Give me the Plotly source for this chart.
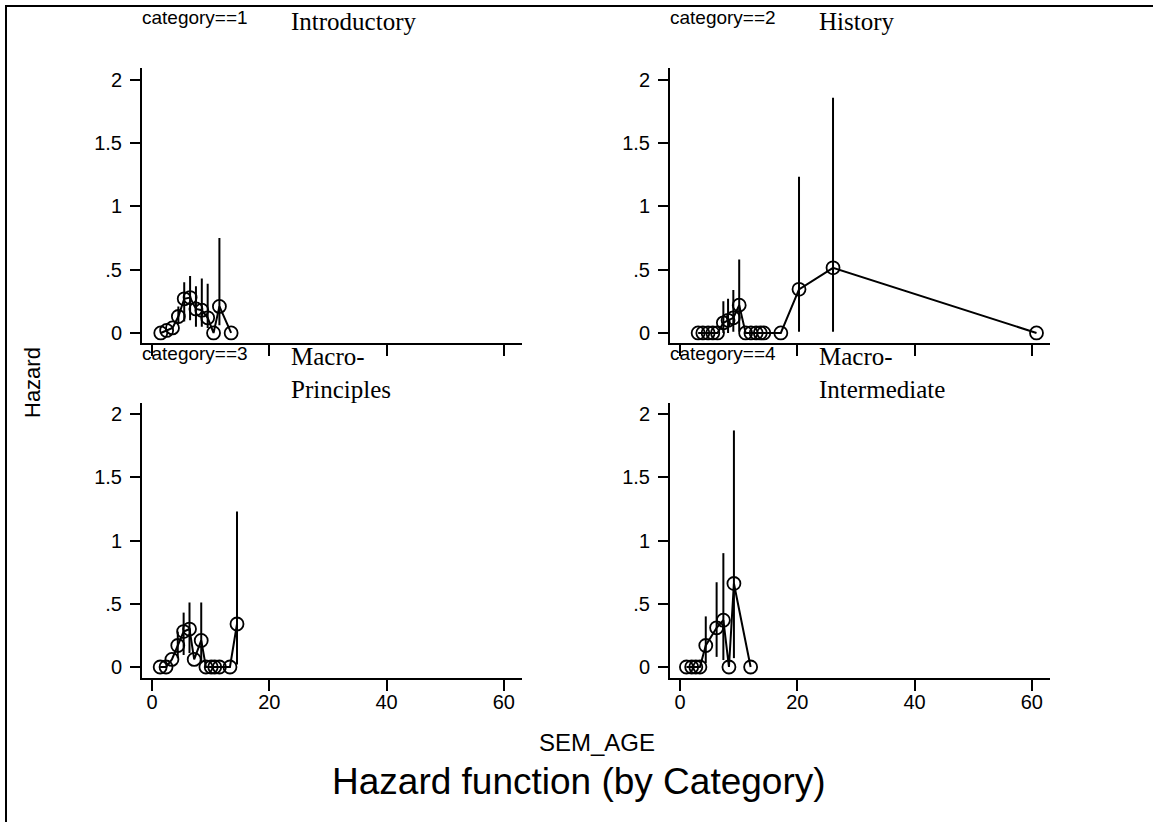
import plotly.graph_objects as go
import numpy as np

W, H = 1153, 822

# ---------------- data ----------------
panel_codes = ["category==1", "category==2", "category==3", "category==4"]
panel_names = ["Introductory", "History", "Macro-<br>Principles", "Macro-<br>Intermediate"]

cat1_x = [1.5, 2.5, 3.5, 4.5, 5.5, 6.5, 7.5, 8.5, 9.5, 10.5, 11.5, 13.5]
cat1_h = [0.0, 0.02, 0.04, 0.13, 0.27, 0.28, 0.19, 0.18, 0.12, 0.0, 0.21, 0.0]
cat1_lo = [None, None, None, 0.07, 0.09, 0.10, 0.05, 0.05, 0.04, None, 0.06, None]
cat1_hi = [None, None, None, 0.21, 0.40, 0.45, 0.37, 0.43, 0.39, None, 0.75, None]

cat2_x = [3.1, 3.9, 4.8, 5.6, 6.4, 7.4, 8.2, 9.1, 10.1, 11.2, 12.1, 13.0, 13.7, 14.3, 17.2, 20.3, 26.1, 60.8]
cat2_h = [0.0, 0.0, 0.0, 0.0, 0.0, 0.08, 0.10, 0.12, 0.22, 0.0, 0.0, 0.0, 0.0, 0.0, 0.0, 0.345, 0.515, 0.0]
cat2_lo = [None, None, None, None, None, 0.0, 0.0, 0.01, 0.01, None, None, None, None, None, None, 0.01, 0.01, None]
cat2_hi = [None, None, None, None, None, 0.25, 0.27, 0.34, 0.58, None, None, None, None, None, None, 1.235, 1.86, None]

cat3_x = [1.4, 2.4, 3.4, 4.4, 5.4, 6.4, 7.2, 8.4, 9.2, 10.1, 10.7, 11.5, 13.3, 14.5]
cat3_h = [0.0, 0.0, 0.06, 0.17, 0.28, 0.30, 0.06, 0.21, 0.0, 0.0, 0.0, 0.0, 0.0, 0.34]
cat3_lo = [None, None, None, 0.07, 0.095, 0.11, None, 0.03, None, None, None, None, None, 0.02]
cat3_hi = [None, None, None, 0.28, 0.43, 0.51, None, 0.51, None, None, None, None, None, 1.23]

cat4_x = [1.1, 2.0, 2.7, 3.4, 4.4, 6.25, 7.4, 8.35, 9.2, 12.05]
cat4_h = [0.0, 0.0, 0.0, 0.0, 0.17, 0.31, 0.37, 0.0, 0.66, 0.0]
cat4_lo = [None, None, None, None, 0.03, 0.08, 0.055, None, 0.07, None]
cat4_hi = [None, None, None, None, 0.40, 0.67, 0.90, None, 1.87, None]

y_tickvals = [0, 0.5, 1, 1.5, 2]
y_ticktext = ["0", ".5", "1", "1.5", "2"]
x_tickvals = [0, 20, 40, 60]
x_ticktext = ["0", "20", "40", "60"]

x_title = "SEM_AGE"
y_title = "Hazard"
main_title = "Hazard function (by Category)"

panels = [
    (cat1_x, cat1_h, cat1_lo, cat1_hi),
    (cat2_x, cat2_h, cat2_lo, cat2_hi),
    (cat3_x, cat3_h, cat3_lo, cat3_hi),
    (cat4_x, cat4_h, cat4_lo, cat4_hi),
]

# ---------------- layout geometry (pixels) ----------------
def px_x(p):
    return p / W

def px_y(p):
    return 1 - p / H

col_px = [(142, 522), (670, 1050)]
row_px = [(68, 342.7), (403, 678)]
y_ranges = [[-0.077, 2.095], [-0.087, 2.087]]
x_range = [-1.7, 63.1]

fig = go.Figure()
SANS = "Liberation Sans, Arial, sans-serif"
SERIF = "Liberation Serif, Times New Roman, serif"

for i, (xs, hs, los, his) in enumerate(panels):
    r, c = divmod(i, 2)
    ax = "" if i == 0 else str(i + 1)
    up = [np.nan if hi is None else hi - h for h, hi in zip(hs, his)]
    dn = [np.nan if lo is None else h - lo for h, lo in zip(hs, los)]
    fig.add_trace(go.Scatter(
        x=xs, y=hs, mode="lines+markers",
        line=dict(color="black", width=2),
        marker=dict(symbol="circle-open", size=13, color="black", line=dict(width=1.8, color="black")),
        error_y=dict(type="data", symmetric=False, array=up, arrayminus=dn,
                     color="black", thickness=2, width=0),
        xaxis="x" + ax, yaxis="y" + ax, showlegend=False, hoverinfo="x+y",
    ))
    x0, x1 = col_px[c]
    y0, y1 = row_px[r]
    fig.layout["xaxis" + ax] = dict(
        domain=[px_x(x0), px_x(x1)], range=x_range, anchor="y" + ax,
        showline=True, linecolor="black", linewidth=2, mirror=False,
        ticks="outside", ticklen=11, tickwidth=2, tickcolor="black",
        tickvals=x_tickvals, ticktext=x_ticktext, showticklabels=(r == 1),
        showgrid=False, zeroline=False, ticklabelstandoff=-6,
        tickfont=dict(family=SANS, size=20, color="black"),
    )
    fig.layout["yaxis" + ax] = dict(
        domain=[px_y(y1), px_y(y0)], range=y_ranges[r], anchor="x" + ax,
        showline=True, linecolor="black", linewidth=2, mirror=False,
        ticks="outside", ticklen=10, tickwidth=2, tickcolor="black",
        tickvals=y_tickvals, ticktext=y_ticktext, showticklabels=True,
        showgrid=False, zeroline=False, ticklabelstandoff=4,
        tickfont=dict(family=SANS, size=20, color="black"),
    )
    # panel labels
    fig.add_annotation(
        text=panel_codes[i], xref="paper", yref="paper",
        x=px_x(x0 - 2), y=px_y(y0 - 50), xanchor="left", yanchor="middle",
        showarrow=False, font=dict(family=SANS, size=19, color="black"),
    )
    if "<br>" in panel_names[i]:
        ymid = y0 - 30
    else:
        ymid = y0 - 47
    fig.add_annotation(
        text=panel_names[i], xref="paper", yref="paper",
        x=px_x(x0 + 147), y=px_y(ymid), xanchor="left", yanchor="middle", align="left",
        showarrow=False, font=dict(family=SERIF, size=25, color="black"),
    )

# axis titles and main title
fig.add_annotation(text=y_title, xref="paper", yref="paper", x=px_x(32), y=px_y(383),
                   textangle=-90, showarrow=False, xanchor="center", yanchor="middle",
                   font=dict(family=SANS, size=22, color="black"))
fig.add_annotation(text=x_title, xref="paper", yref="paper", x=px_x(597), y=px_y(742),
                   showarrow=False, xanchor="center", yanchor="middle",
                   font=dict(family=SANS, size=24, color="black"))
fig.add_annotation(text=main_title, xref="paper", yref="paper", x=px_x(579), y=px_y(781),
                   showarrow=False, xanchor="center", yanchor="middle",
                   font=dict(family=SANS, size=37, color="black"))

# outer frame
fig.add_shape(type="rect", xref="paper", yref="paper",
              x0=px_x(6), x1=1.01, y0=-0.01, y1=px_y(6),
              line=dict(color="black", width=2), fillcolor="rgba(0,0,0,0)")

fig.update_layout(
    width=W, height=H, margin=dict(l=0, r=0, t=0, b=0),
    paper_bgcolor="white", plot_bgcolor="white",
    font=dict(family=SANS, color="black"),
)

fig.write_html("out.html")
